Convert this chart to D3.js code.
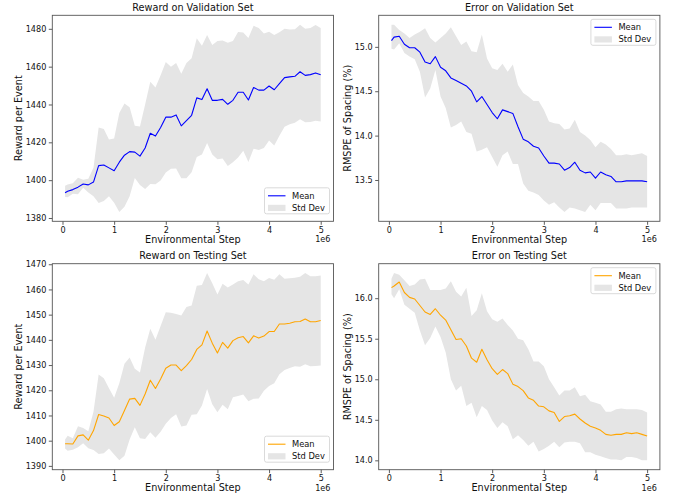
<!DOCTYPE html>
<html>
<head>
<meta charset="utf-8">
<script src="https://cdn.jsdelivr.net/npm/d3@7"></script>
<style>
  html, body { margin: 0; padding: 0; background: #fff; }
  svg { display: block; font-family: "DejaVu Sans", sans-serif; }
</style>
</head>
<body>
<svg id="fig" width="680" height="497"></svg>
<script>
// Evaluation checkpoints (environment steps)
const steps = [50000, 100000, 200000, 300000, 400000, 500000, 600000, 700000, 800000, 900000,
  1000000, 1100000, 1200000, 1300000, 1400000, 1500000, 1600000, 1700000, 1800000, 1900000,
  2000000, 2100000, 2200000, 2300000, 2400000, 2500000, 2600000, 2700000, 2800000, 2900000,
  3000000, 3100000, 3200000, 3300000, 3400000, 3500000, 3600000, 3700000, 3800000, 3900000,
  4000000, 4100000, 4200000, 4300000, 4400000, 4500000, 4600000, 4700000, 4800000, 4900000,
  5000000];

// Reward per event, validation set
const valRewardMean = [1393.3, 1394.1, 1395.0, 1396.3, 1398.0, 1397.5, 1399.0, 1407.7, 1408.0, 1406.5,
  1405.0, 1409.5, 1413.2, 1415.1, 1414.8, 1412.7, 1417.0, 1424.8, 1423.3, 1427.8,
  1433.3, 1433.3, 1434.5, 1428.7, 1431.5, 1434.3, 1443.5, 1442.6, 1448.3, 1442.2,
  1442.2, 1442.7, 1440.1, 1442.2, 1446.5, 1446.5, 1442.4, 1449.0, 1447.6, 1447.6,
  1449.8, 1447.8, 1451.0, 1454.2, 1454.6, 1454.9, 1457.3, 1455.4, 1455.8, 1456.7,
  1455.7];
const valRewardUpper = [1397.0, 1397.7, 1398.3, 1401.3, 1400.2, 1400.8, 1406.5, 1427.8, 1427.0, 1421.5,
  1422.0, 1435.5, 1440.5, 1438.5, 1428.7, 1428.4, 1440.0, 1452.0, 1449.0, 1455.5,
  1462.5, 1460.0, 1462.0, 1456.2, 1462.0, 1464.4, 1475.0, 1471.0, 1476.7, 1471.5,
  1473.6, 1473.8, 1472.6, 1473.6, 1478.3, 1478.0, 1475.2, 1481.6, 1480.5, 1477.5,
  1478.5, 1476.8, 1478.2, 1480.0, 1479.6, 1479.8, 1482.2, 1480.1, 1480.4, 1482.0,
  1480.4];
const valRewardLower = [1391.1, 1391.0, 1392.8, 1392.5, 1396.0, 1393.5, 1391.5, 1387.9, 1389.0, 1391.5,
  1388.0, 1383.2, 1386.0, 1391.5, 1401.1, 1397.5, 1395.3, 1398.0, 1397.8, 1399.8,
  1404.0, 1406.0, 1406.2, 1401.0, 1401.0, 1404.2, 1412.3, 1413.5, 1419.6, 1413.5,
  1411.0, 1411.5, 1407.5, 1409.5, 1412.0, 1415.5, 1409.6, 1416.6, 1416.0, 1417.0,
  1421.0, 1418.3, 1423.5, 1428.2, 1429.6, 1430.3, 1432.2, 1430.6, 1430.8, 1431.4,
  1431.0];

// RMSPE of spacing (%), validation set
const valErrorMean = [15.07, 15.11, 15.12, 15.03, 14.99, 14.99, 14.94, 14.83, 14.81, 14.89,
  14.77, 14.73, 14.65, 14.62, 14.59, 14.56, 14.50, 14.38, 14.44, 14.35,
  14.26, 14.19, 14.29, 14.27, 14.25, 14.10, 13.96, 13.93, 13.88, 13.86,
  13.77, 13.69, 13.69, 13.68, 13.61, 13.64, 13.70, 13.61, 13.58, 13.59,
  13.52, 13.59, 13.56, 13.54, 13.48, 13.48, 13.49, 13.49, 13.49, 13.49,
  13.48];
const valErrorUpper = [15.25, 15.25, 15.19, 15.15, 15.10, 15.14, 15.17, 15.21, 15.10, 15.05,
  15.10, 15.15, 15.22, 15.12, 15.02, 15.06, 14.95, 14.94, 15.14, 14.87,
  14.76, 14.74, 14.81, 14.72, 14.80, 14.57, 14.48, 14.44, 14.39, 14.39,
  14.29, 14.16, 14.14, 14.13, 14.07, 14.08, 14.18, 14.04, 14.00, 13.95,
  13.87, 13.93, 13.90, 13.85, 13.78, 13.78, 13.79, 13.78, 13.79, 13.80,
  13.77];
const valErrorLower = [14.98, 14.97, 15.04, 14.93, 14.89, 14.86, 14.72, 14.43, 14.53, 14.74,
  14.44, 14.31, 14.09, 14.12, 14.16, 14.04, 14.02, 13.82, 13.84, 13.87,
  13.76, 13.65, 13.78, 13.82, 13.68, 13.68, 13.46, 13.38, 13.36, 13.33,
  13.27, 13.22, 13.25, 13.19, 13.14, 13.19, 13.18, 13.16, 13.14, 13.22,
  13.16, 13.24, 13.24, 13.24, 13.18, 13.18, 13.18, 13.19, 13.19, 13.19,
  13.19];

// Reward per event, testing set
const testRewardMean = [1398.8, 1398.8, 1398.7, 1401.9, 1402.3, 1400.2, 1404.0, 1410.4, 1409.8, 1409.0,
  1406.0, 1407.5, 1412.0, 1416.5, 1416.8, 1414.0, 1418.5, 1424.0, 1420.7, 1424.5,
  1428.7, 1430.0, 1430.0, 1427.8, 1429.8, 1432.2, 1436.2, 1438.0, 1443.5, 1438.7,
  1434.8, 1439.0, 1436.7, 1439.7, 1440.8, 1441.3, 1438.8, 1441.6, 1440.7, 1441.5,
  1443.3, 1443.3, 1446.3, 1446.3, 1446.6, 1447.2, 1447.3, 1448.3, 1447.2, 1447.2,
  1447.7];
const testRewardUpper = [1400.5, 1402.0, 1401.0, 1405.7, 1405.0, 1403.7, 1411.5, 1426.3, 1424.8, 1420.8,
  1417.0, 1422.8, 1430.5, 1433.0, 1428.5, 1427.0, 1437.0, 1444.4, 1440.0, 1445.5,
  1451.0, 1450.8, 1450.3, 1449.7, 1453.0, 1453.6, 1461.5, 1461.8, 1466.5, 1462.5,
  1458.0, 1462.3, 1460.8, 1462.0, 1463.3, 1463.7, 1462.0, 1466.0, 1464.0, 1463.3,
  1464.5, 1463.8, 1466.0, 1464.2, 1464.4, 1464.6, 1465.0, 1466.5, 1465.2, 1465.2,
  1465.5];
const testRewardLower = [1396.9, 1396.0, 1396.4, 1397.4, 1399.0, 1397.0, 1396.3, 1394.7, 1395.0, 1396.9,
  1394.5, 1392.2, 1394.0, 1400.5, 1405.3, 1401.0, 1400.7, 1403.3, 1401.2, 1403.5,
  1406.7, 1409.0, 1410.5, 1405.6, 1406.0, 1410.3, 1410.5, 1414.0, 1420.5, 1414.5,
  1411.3, 1414.3, 1412.5, 1417.2, 1417.7, 1418.3, 1415.6, 1416.6, 1416.7, 1419.8,
  1421.7, 1422.8, 1426.4, 1428.0, 1428.8, 1429.5, 1429.3, 1430.3, 1429.5, 1429.6,
  1429.8];

// RMSPE of spacing (%), testing set
const testErrorMean = [16.13, 16.15, 16.20, 16.07, 16.01, 15.99, 15.91, 15.83, 15.80, 15.87,
  15.79, 15.73, 15.61, 15.49, 15.50, 15.41, 15.26, 15.21, 15.37, 15.24,
  15.13, 15.06, 15.12, 15.07, 14.94, 14.91, 14.86, 14.77, 14.74, 14.67,
  14.66, 14.61, 14.59, 14.48, 14.54, 14.55, 14.57, 14.51, 14.46, 14.42,
  14.40, 14.37, 14.32, 14.31, 14.32, 14.32, 14.34, 14.33, 14.34, 14.32,
  14.30];
const testErrorUpper = [16.24, 16.31, 16.29, 16.22, 16.15, 16.17, 16.23, 16.24, 16.10, 16.10,
  16.10, 16.12, 16.21, 16.08, 16.02, 16.13, 15.78, 15.85, 16.06, 15.84,
  15.74, 15.71, 15.75, 15.67, 15.60, 15.50, 15.48, 15.37, 15.22, 15.22,
  15.16, 15.00, 14.90, 14.80, 14.86, 14.86, 14.90, 14.79, 14.81, 14.73,
  14.71, 14.69, 14.60, 14.60, 14.63, 14.64, 14.63, 14.63, 14.63, 14.62,
  14.59];
const testErrorLower = [16.05, 16.00, 16.11, 15.92, 15.87, 15.82, 15.60, 15.42, 15.51, 15.65,
  15.52, 15.33, 15.00, 14.86, 14.92, 14.67, 14.71, 14.53, 14.67, 14.62,
  14.49, 14.40, 14.47, 14.42, 14.26, 14.31, 14.25, 14.18, 14.23, 14.11,
  14.14, 14.18, 14.23, 14.16, 14.22, 14.23, 14.23, 14.21, 14.10, 14.10,
  14.07, 14.05, 14.03, 14.01, 14.01, 14.00, 14.04, 14.04, 14.03, 14.00,
  14.00];

// Axis ticks
const xTicks = [0, 1000000, 2000000, 3000000, 4000000, 5000000];
const valRewardTicks = [1380, 1400, 1420, 1440, 1460, 1480];
const valErrorTicks = [13.5, 14.0, 14.5, 15.0];
const testRewardTicks = [1390, 1400, 1410, 1420, 1430, 1440, 1450, 1460, 1470];
const testErrorTicks = [14.0, 14.5, 15.0, 15.5, 16.0];

const legendLabels = ["Mean", "Std Dev"];

const panels = [
  { title: "Reward on Validation Set", ylabel: "Reward per Event", mean: valRewardMean,
    lower: valRewardLower, upper: valRewardUpper, color: "#0000ff", yTicks: valRewardTicks,
    fmt: d3.format("d"), legend: "lower right", col: 0, row: 0 },
  { title: "Error on Validation Set", ylabel: "RMSPE of Spacing (%)", mean: valErrorMean,
    lower: valErrorLower, upper: valErrorUpper, color: "#0000ff", yTicks: valErrorTicks,
    fmt: d3.format(".1f"), legend: "upper right", col: 1, row: 0 },
  { title: "Reward on Testing Set", ylabel: "Reward per Event", mean: testRewardMean,
    lower: testRewardLower, upper: testRewardUpper, color: "#ffa500", yTicks: testRewardTicks,
    fmt: d3.format("d"), legend: "lower right", col: 0, row: 1 },
  { title: "Error on Testing Set", ylabel: "RMSPE of Spacing (%)", mean: testErrorMean,
    lower: testErrorLower, upper: testErrorUpper, color: "#ffa500", yTicks: testErrorTicks,
    fmt: d3.format(".1f"), legend: "upper right", col: 1, row: 1 }
];

// Subplot grid geometry
const colLeft = [52.3, 378.7];
const rowTop = [15.3, 263.7];
const ylabelOffset = [-34, -31.5];
const axW = 281.2, axH = 206;
const fillColor = "#e5e5e5";
const textColor = "#111";

const svg = d3.select("#fig");

panels.forEach(p => {
  const x0 = colLeft[p.col], y0 = rowTop[p.row];
  const g = svg.append("g").attr("transform", `translate(${x0},${y0})`);

  // x range padded 5% on each side, as in the default autoscale
  const xExt = d3.extent(steps);
  const xPad = (xExt[1] - xExt[0]) * 0.05;
  const x = d3.scaleLinear().domain([xExt[0] - xPad, xExt[1] + xPad]).range([0, axW]);

  const yMin = d3.min(p.lower), yMax = d3.max(p.upper);
  const yPad = (yMax - yMin) * 0.05;
  const y = d3.scaleLinear().domain([yMin - yPad, yMax + yPad]).range([axH, 0]);

  const rows = steps.map((s, i) => ({ s, m: p.mean[i], lo: p.lower[i], hi: p.upper[i] }));

  g.append("path")
    .datum(rows)
    .attr("fill", fillColor)
    .attr("d", d3.area().x(d => x(d.s)).y0(d => y(d.lo)).y1(d => y(d.hi)));

  g.append("path")
    .datum(rows)
    .attr("fill", "none")
    .attr("stroke", p.color)
    .attr("stroke-width", 1.1)
    .attr("stroke-linejoin", "round")
    .attr("d", d3.line().x(d => x(d.s)).y(d => y(d.m)));

  // Axes
  const xAxis = d3.axisBottom(x).tickValues(xTicks).tickSize(3.5).tickPadding(2.5)
    .tickFormat(d => d3.format("d")(d / 1e6));
  const gx = g.append("g").attr("transform", `translate(0,${axH})`).call(xAxis);
  const yAxis = d3.axisLeft(y).tickValues(p.yTicks).tickSize(3.5).tickPadding(2.5).tickFormat(p.fmt);
  const gy = g.append("g").call(yAxis);
  [gx, gy].forEach(a => {
    a.select(".domain").remove();
    a.selectAll(".tick line").attr("stroke", "#333").attr("stroke-width", 0.8);
    a.selectAll(".tick text").attr("fill", textColor).style("font-size", "8.1px")
      .style("font-family", "DejaVu Sans, sans-serif");
  });

  // Frame
  g.append("rect").attr("x", 0).attr("y", 0).attr("width", axW).attr("height", axH)
    .attr("fill", "none").attr("stroke", "#555").attr("stroke-width", 0.9);

  // Title and labels
  g.append("text").attr("x", axW / 2).attr("y", -4.3).attr("text-anchor", "middle")
    .attr("fill", textColor).style("font-size", "9.7px").text(p.title);
  g.append("text").attr("x", axW / 2).attr("y", axH + 21.8).attr("text-anchor", "middle")
    .attr("fill", textColor).style("font-size", "9.7px").text("Environmental Step");
  g.append("text").attr("x", axW - 3).attr("y", axH + 21).attr("text-anchor", "end")
    .attr("fill", textColor).style("font-size", "8.1px").text("1e6");
  g.append("text")
    .attr("transform", `translate(${ylabelOffset[p.col]},${axH / 2}) rotate(-90)`)
    .attr("text-anchor", "middle").attr("dy", "0.35em")
    .attr("fill", textColor).style("font-size", "9.7px").text(p.ylabel);

  // Legend
  const lw = 65, lh = 26;
  const lx = axW - 4 - lw;
  const ly = p.legend === "upper right" ? 4 : axH - 7.5 - lh;
  const lg = g.append("g").attr("transform", `translate(${lx},${ly})`);
  lg.append("rect").attr("width", lw).attr("height", lh).attr("rx", 2)
    .attr("fill", "#fff").attr("fill-opacity", 0.8)
    .attr("stroke", "#d0d0d0").attr("stroke-width", 0.8);
  lg.append("line").attr("x1", 3.5).attr("x2", 21).attr("y1", 8).attr("y2", 8)
    .attr("stroke", p.color).attr("stroke-width", 1.1);
  lg.append("rect").attr("x", 3.5).attr("y", 17).attr("width", 17.5).attr("height", 6.2)
    .attr("fill", fillColor);
  legendLabels.forEach((t, i) => {
    lg.append("text").attr("x", 27.5).attr("y", 8 + i * 12).attr("dy", "0.35em")
      .attr("fill", textColor).style("font-size", "8.3px").text(t);
  });
});
</script>
</body>
</html>
